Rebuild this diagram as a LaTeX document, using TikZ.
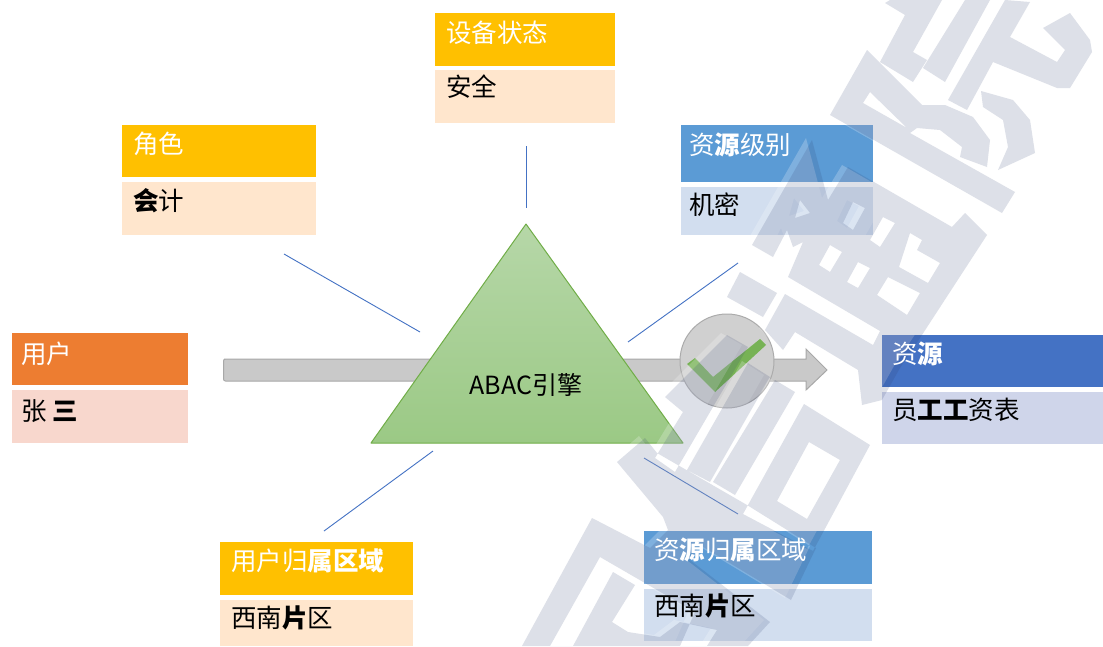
\documentclass[tikz,border=0pt]{standalone}
\usepackage{fontspec}
\setmainfont{Noto Sans CJK SC}
\definecolor{yhead}{HTML}{FFC000}
\definecolor{ybody}{HTML}{FFE6CD}
\definecolor{ohead}{HTML}{ED7D31}
\definecolor{obody}{HTML}{F8D7CD}
\definecolor{bhead}{HTML}{4472C4}
\definecolor{bbody}{HTML}{CFD5EA}
\definecolor{lhead}{HTML}{5B9BD5}
\definecolor{lbody}{HTML}{D2DEEF}
\definecolor{linkc}{HTML}{4472C4}
\definecolor{wmark}{HTML}{2F3F70}
\definecolor{ttop}{HTML}{B6D7A8}
\definecolor{tbot}{HTML}{9BC985}
\definecolor{tline}{HTML}{70AD47}
\definecolor{badge}{HTML}{D0D0D0}
\definecolor{badgeline}{HTML}{ABABAB}
\definecolor{tick}{HTML}{77B255}
\tikzset{
  cardrect/.style={anchor=north west,inner sep=0pt,outer sep=0pt,draw=none},
  cardtext/.style={anchor=west,inner sep=0pt,outer sep=0pt,font=\fontsize{25.5}{25.5}\selectfont},
  linkline/.style={draw=linkc,line width=0.9pt},
}
% name, x, y(top), width, header h, body top, body h, head colour, body colour
\newcommand{\cardbox}[9]{%
  \node[cardrect,fill=#8,minimum width=#4pt,minimum height=#5pt] (#1h) at (#2,#3) {};
  \node[cardrect,fill=#9,minimum width=#4pt,minimum height=#7pt] (#1b) at (#2,#6) {};
}
\newcommand{\wmpath}{%
 (890,0)--(942,0)--(913,52)--(927,60)--(913,82)--(880,62)--(905,15)--(885,3)--cycle
 (965,0)--(990,0)--(945,82)--(923,68)--cycle
 (1005,0)--(1030,2)--(1010,37)--(1057,62)--(1065,50)--(1043,28)--(1070,13)--(1090,40)--(1092,52)--(1070,88)--(1057,88)--(993,62)--(967,110)--(948,100)--cycle
 (867,50)--(922,105)--(945,105)--(973,117)--(990,140)--(987,167)--(960,157)--(962,147)--(940,130)--(917,128)--(910,133)--(1015,192)--(1002,213)--(830,115)--cycle
 (870,92)--(907,128)--(863,103)--cycle
 (981,91)--(1013,100)--(1030,120)--(1035,153)--(998,170)--(1008,147)--(1003,120)--(983,107)--cycle
 (812,140)--(828,200)--(848,167)--(952,227)--(965,213)--(987,235)--(920,338)--(900,368)--(882,400)--(862,405)--(858,370)--(795,332)--(783,350)--(765,330)--(785,294)--(873,345)--(880,331)--(788,277)--(803,242)--(793,247)--(787,230)--(773,257)--(752,245)--cycle
 (800,200)--(810,213)--(795,218)--cycle
 (853,202)--(865,208)--(853,230)--(843,223)--cycle
 (883,217)--(895,223)--(880,247)--(870,240)--cycle
 (830,245)--(842,252)--(830,272)--(819,265)--cycle
 (858,262)--(870,268)--(858,288)--(847,282)--cycle
 (910,233)--(922,240)--(917,250)--(940,263)--(928,283)--(899,267)--cycle
 (888,277)--(920,293)--(907,315)--(877,295)--cycle
 (740,272)--(777,293)--(763,317)--(727,297)--cycle
 (665,397)--(727,335)--(748,347)--(675,472)--(655,458)--(683,412)--cycle
 (748,363)--(770,377)--(710,482)--(687,470)--cycle
 (775,380)--(795,392)--(735,495)--(713,482)--cycle
 (804,404)--(870,445)--(813,551)--(743,514)--cycle
 (809,442)--(840,460)--(807,519)--(777,501)--cycle
 (617,462)--(645,438)--(657,453)--(747,505)--(816,548)--(791,600)--(700,545)--(690,560)--(770,622)--(748,646)--(522,646)--(592,518)--(650,548)--(668,530)--(663,517)--cycle
 (600,557)--(695,612)--(680,646)--(550,646)--cycle
 (613,572)--(635,585)--(612,622)--(628,632)--(660,637)--(680,622)--(717,630)--(707,646)--(573,646)--cycle
}
\begin{document}
\begin{tikzpicture}[x=1pt,y=-1pt]
\useasboundingbox (0,0) rectangle (1103,646);
\fill[white] (0,0) rectangle (1103,646);

% cards
\cardbox{dev}{435}{13}{180}{53}{70}{53}{yhead}{ybody}
\cardbox{role}{122}{125}{194}{52}{182}{53}{yhead}{ybody}
\cardbox{usr}{12}{333}{176}{52}{390}{53}{ohead}{obody}
\cardbox{lvl}{681}{125}{192}{57}{187}{48}{lhead}{lbody}
\cardbox{res}{882}{335}{221}{52}{392}{52}{bhead}{bbody}
\cardbox{ureg}{220}{542}{193}{53}{600}{46}{yhead}{ybody}
\cardbox{rreg}{644}{531}{228}{53}{589}{52}{lhead}{lbody}

% connector stubs
\coordinate (l1a) at (526,146); \coordinate (l1b) at (526,208);
\coordinate (l2a) at (284,254); \coordinate (l2b) at (420,332);
\coordinate (l3a) at (738,263); \coordinate (l3b) at (628,342);
\coordinate (l4a) at (433,451); \coordinate (l4b) at (324,531);
\coordinate (l5a) at (644,458); \coordinate (l5b) at (738,514);
\draw[linkline] (l1a) -- (l1b);
\draw[linkline] (l2a) -- (l2b);
\draw[linkline] (l3a) -- (l3b);
\draw[linkline] (l4a) -- (l4b);
\draw[linkline] (l5a) -- (l5b);

% flow arrow
\draw[fill=black!21,draw=black!34,line width=1pt]
  (226,359) -- (806,359) -- (806,349) -- (827,370) -- (806,390) -- (806,381) -- (226,381)
  [rounded corners=2pt] -- (223.5,381) -- (223.5,359) -- cycle;

% engine triangle
\coordinate (ta) at (526,224);
\coordinate (tl) at (371,443);
\coordinate (tr) at (683,443);
\shade[top color=ttop,bottom color=tbot] (ta) -- (tr) -- (tl) -- cycle;
\draw[draw=tline,line width=1pt,line join=round] (ta) -- (tr) -- (tl) -- cycle;

% check badge
\node[circle,minimum size=94pt,inner sep=0pt,fill=badge,draw=badgeline,line width=1pt] (badge) at (727,361) {};
\fill[tick] (687,364)--(695,358)--(713,377)--(760,339)--(766,345)--(715,392)--cycle;

% watermark
\fill[white,opacity=.22,even odd rule,xshift=-6pt,yshift=2pt] \wmpath;
\fill[wmark,opacity=.16,even odd rule] \wmpath;

% texts
\node[inner sep=0pt,font=\fontsize{25}{25}\selectfont] (engine) at (526,385) {ABAC引擎};
\node[cardtext,text=white] (devht) at (446,33) {设备状态};
\node[cardtext] (devbt) at (446,87) {安全};
\node[cardtext,text=white] (roleht) at (133,144) {角色};
\node[cardtext] (rolebt) at (133,201) {\textbf{会}计};
\node[cardtext,text=white] (usrht) at (21,354) {用户};
\node[cardtext] (usrbt) at (21,411) {张 \textbf{三}};
\node[cardtext,text=white] (lvlht) at (689,145) {资\textbf{源}级别};
\node[cardtext] (lvlbt) at (689,205) {机密};
\node[cardtext,text=white] (resht) at (892,354) {资\textbf{源}};
\node[cardtext] (resbt) at (892,410) {员\textbf{工工}资表};
\node[cardtext,text=white] (ureght) at (231,561) {用户归\textbf{属区域}};
\node[cardtext] (uregbt) at (231,618) {西南\textbf{片}区};
\node[cardtext,text=white] (rreght) at (654,550) {资\textbf{源}归\textbf{属}区域};
\node[cardtext] (rregbt) at (654,606) {西南\textbf{片}区};
\end{tikzpicture}
\end{document}
